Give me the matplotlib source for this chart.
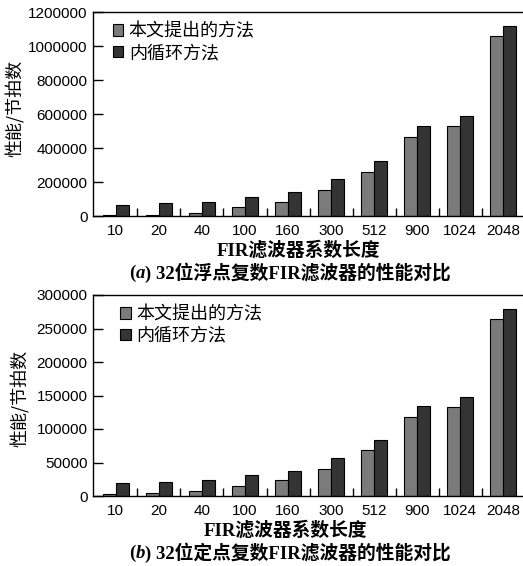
"""
32位浮点 / 定点复数FIR滤波器性能对比 (two stacked bar charts).
"""
import numpy as np
import matplotlib
matplotlib.use("Agg")
import matplotlib.pyplot as plt
from matplotlib.patches import Patch

plt.rcParams["font.family"] = ["Liberation Sans", "Noto Sans CJK SC"]

CATEGORIES = ["10", "20", "40", "100", "160", "300", "512", "900", "1024", "2048"]
SERIES_NAMES = ["本文提出的方法", "内循环方法"]

FLOAT_PROPOSED = [6000, 6000, 20000, 51000, 84000, 153000, 261000, 465000, 529000, 1059000]
FLOAT_INNER = [67000, 78000, 84000, 110000, 143000, 218000, 322000, 527000, 588000, 1118000]

FIXED_PROPOSED = [3500, 5000, 7500, 15500, 23500, 41000, 68500, 118500, 133500, 264500]
FIXED_INNER = [19500, 21000, 23500, 32000, 37000, 56000, 83000, 134500, 148000, 279500]

FLOAT_YTICKS = [0, 200000, 400000, 600000, 800000, 1000000, 1200000]
FIXED_YTICKS = [0, 50000, 100000, 150000, 200000, 250000, 300000]

XLABEL = "FIR滤波器系数长度"
YLABEL = "性能/节拍数"
CAPTIONS = [("a", ") 32位浮点复数FIR滤波器的性能对比"),
            ("b", ") 32位定点复数FIR滤波器的性能对比")]

GRAY = "#7b7b7b"
DARK = "#343434"
SERIF = ["Liberation Serif", "Noto Sans CJK SC"]
W, H = 523, 566


def draw_panel(fig, rect, proposed, inner, yticks, leg_anchor):
    ax = fig.add_axes(rect)
    x = np.arange(len(CATEGORIES))
    bw = 0.3
    ax.bar(x - bw / 2, proposed, bw, color=GRAY, edgecolor="black", linewidth=0.8)
    ax.bar(x + bw / 2, inner, bw, color=DARK, edgecolor="black", linewidth=0.8)

    ax.set_xlim(-0.53, 9.55)
    ax.set_ylim(0, yticks[-1])
    ax.set_xticks(x)
    ax.set_xticklabels(CATEGORIES, fontsize=11)
    ax.set_xticks(x[:-1] + 0.5, minor=True)
    ax.tick_params(axis="x", which="major", length=0, pad=6)
    ax.tick_params(axis="x", which="minor", direction="in", length=6, width=1)
    ax.set_yticks(yticks)
    ax.set_yticklabels([str(v) for v in yticks], fontsize=11)
    ax.tick_params(axis="y", direction="in", length=7, width=1, pad=4)
    for s in ax.spines.values():
        s.set_linewidth(1)

    handles = [Patch(facecolor=GRAY, edgecolor="black", linewidth=0.8),
               Patch(facecolor=DARK, edgecolor="black", linewidth=0.8)]
    ax.legend(handles, SERIES_NAMES, loc="upper left", bbox_to_anchor=leg_anchor,
              frameon=False, fontsize=13, handlelength=0.6, handleheight=0.6,
              handletextpad=0.3, labelspacing=0.25, borderaxespad=0,
              borderpad=0)
    return ax


def caption(fig, renderer, yc, letter, rest):
    parts = [("(", "normal"), (letter, "italic"), (rest, "normal")]
    texts = []
    for s, style in parts:
        t = fig.text(0, yc, s, fontsize=13.5, fontweight="bold", style=style,
                     family=SERIF, ha="left", va="center")
        texts.append(t)
    widths = [t.get_window_extent(renderer).width for t in texts]
    x0 = 290 - sum(widths) / 2
    for t, w in zip(texts, widths):
        t.set_x(x0 / W)
        x0 += w


fig = plt.figure(figsize=(W / 100, H / 100), dpi=100)

draw_panel(fig, [93 / W, 1 - 216 / H, 434 / W, 204 / H],
           FLOAT_PROPOSED, FLOAT_INNER, FLOAT_YTICKS, (0.045, 0.945))
draw_panel(fig, [93 / W, 1 - 496 / H, 434 / W, 201 / H],
           FIXED_PROPOSED, FIXED_INNER, FIXED_YTICKS, (0.062, 0.945))

fig.text(15 / W, 1 - 108 / H, YLABEL, rotation=90, fontsize=13,
         family=["Noto Sans CJK SC"], ha="center", va="center")
fig.text(20 / W, 1 - 398 / H, YLABEL, rotation=90, fontsize=13,
         family=["Noto Sans CJK SC"], ha="center", va="center")

fig.text(299 / W, 1 - 250 / H, XLABEL, fontsize=13.5, fontweight="bold",
         family=SERIF, ha="center", va="center")
fig.text(286 / W, 1 - 530 / H, XLABEL, fontsize=13.5, fontweight="bold",
         family=SERIF, ha="center", va="center")

renderer = fig.canvas.get_renderer()
caption(fig, renderer, 1 - 273 / H, *CAPTIONS[0])
caption(fig, renderer, 1 - 553 / H, *CAPTIONS[1])

fig.savefig("out.png", dpi=100)
